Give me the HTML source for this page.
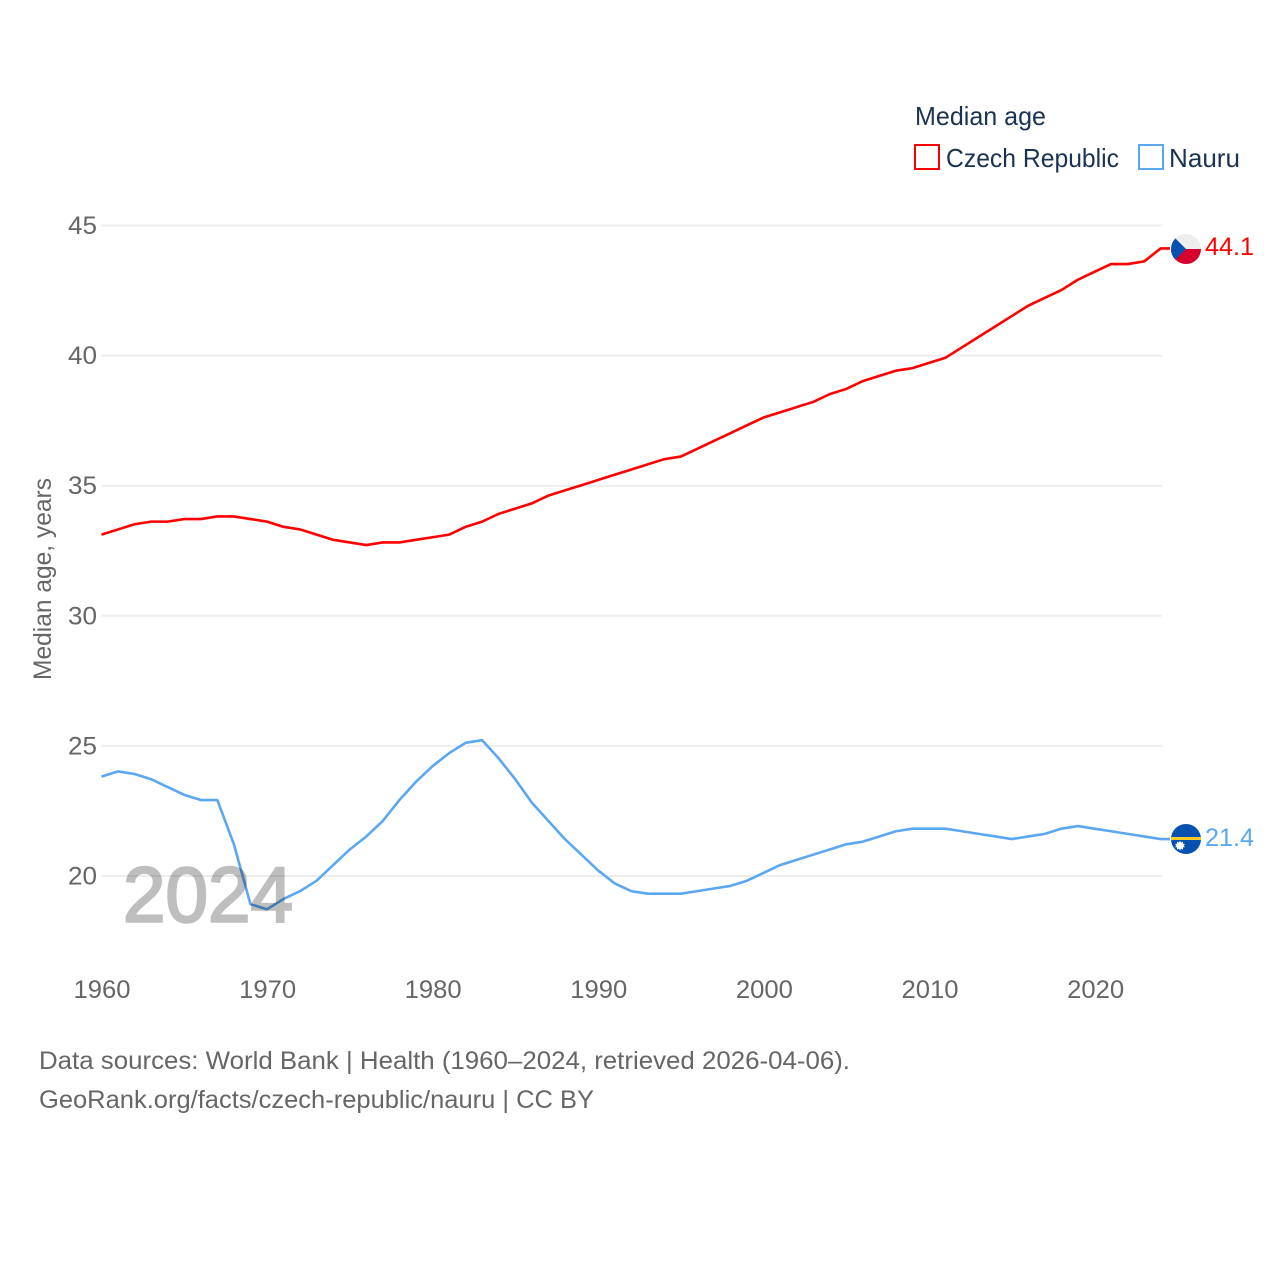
<!DOCTYPE html>
<html lang="en">
<head>
<meta charset="utf-8">
<title>Median age: Czech Republic and Nauru</title>
<style>
html,body{margin:0;padding:0;background:#fff;width:1280px;height:1280px;overflow:hidden}
svg{display:block;font-family:"Liberation Sans",sans-serif}
</style>
</head>
<body>
<svg id="chart" xmlns="http://www.w3.org/2000/svg" width="1280" height="1280" viewBox="0 0 1280 1280">
  <rect width="1280" height="1280" fill="#fff"/>
  <g id="grid"></g>
  <g id="yticks"></g>
  <g id="xticks"></g>
  <text transform="translate(51,680) rotate(-90)" font-size="25" fill="#666" textLength="202" lengthAdjust="spacingAndGlyphs">Median age, years</text>
  <g id="series"></g>
  <text x="123" y="921.5" font-size="78" fill="#000" stroke="#000" stroke-width="2.4" opacity="0.25" textLength="170" lengthAdjust="spacingAndGlyphs">2024</text>

  <defs>
    <clipPath id="clip-cz"><circle cx="1186" cy="249" r="15"/></clipPath>
    <clipPath id="clip-nr"><circle cx="1186" cy="839" r="15"/></clipPath>
  </defs>
  <g clip-path="url(#clip-cz)">
    <rect x="1171" y="234" width="30" height="15" fill="#eeeeee"/>
    <rect x="1171" y="249" width="30" height="15" fill="#d7002c"/>
    <polygon points="1171,234 1186,249 1171,264" fill="#0650b0"/>
  </g>
  <g clip-path="url(#clip-nr)">
    <rect x="1171" y="824" width="30" height="30" fill="#0650b0"/>
    <rect x="1171" y="837" width="30" height="3" fill="#ffc928"/>
    <polygon points="1180,840.6 1181,842.6 1183,841.6 1182.9,843.8 1185,844 1183.6,845.6 1185,847.3 1182.9,847.4 1183,849.6 1181,848.6 1180,850.6 1179,848.6 1177,849.6 1177.1,847.4 1175,847.3 1176.4,845.6 1175,844 1177.1,843.8 1177,841.6 1179,842.6" fill="#fff"/>
  </g>
  <text x="1205" y="255" font-size="25" fill="#ff0000" textLength="49" lengthAdjust="spacingAndGlyphs">44.1</text>
  <text x="1205" y="846" font-size="25" fill="#5ba7f0" textLength="49" lengthAdjust="spacingAndGlyphs">21.4</text>

  <g>
    <text x="915" y="125" font-size="26" fill="#1b3352" textLength="131" lengthAdjust="spacingAndGlyphs">Median age</text>
    <g>
      <rect x="915" y="145" width="24" height="24" fill="#fff" stroke="#ff0000" stroke-width="2"/>
      <text x="946" y="167" font-size="26" fill="#1b3352" textLength="173" lengthAdjust="spacingAndGlyphs">Czech Republic</text>
    </g>
    <g>
      <rect x="1139" y="145" width="24" height="24" fill="#fff" stroke="#5ba7f0" stroke-width="2"/>
      <text x="1169" y="167" font-size="26" fill="#1b3352" textLength="71" lengthAdjust="spacingAndGlyphs">Nauru</text>
    </g>
  </g>

  <text x="39" y="1069" font-size="25" fill="#666" textLength="811" lengthAdjust="spacingAndGlyphs">Data sources: World Bank | Health (1960–2024, retrieved 2026-04-06).</text>
  <text x="39" y="1108" font-size="25" fill="#666" textLength="555" lengthAdjust="spacingAndGlyphs">GeoRank.org/facts/czech-republic/nauru | CC BY</text>
</svg>
<script>
const startYear = 1960;
const yTickValues = [20, 25, 30, 35, 40, 45];
const xTickValues = [1960, 1970, 1980, 1990, 2000, 2010, 2020];
const czechValues = [33.1,33.3,33.5,33.6,33.6,33.7,33.7,33.8,33.8,33.7,33.6,33.4,33.3,33.1,32.9,32.8,32.7,32.8,32.8,32.9,33.0,33.1,33.4,33.6,33.9,34.1,34.3,34.6,34.8,35.0,35.2,35.4,35.6,35.8,36.0,36.1,36.4,36.7,37.0,37.3,37.6,37.8,38.0,38.2,38.5,38.7,39.0,39.2,39.4,39.5,39.7,39.9,40.3,40.7,41.1,41.5,41.9,42.2,42.5,42.9,43.2,43.5,43.5,43.6,44.1];
const nauruValues = [23.8,24.0,23.9,23.7,23.4,23.1,22.9,22.9,21.2,18.9,18.7,19.1,19.4,19.8,20.4,21.0,21.5,22.1,22.9,23.6,24.2,24.7,25.1,25.2,24.5,23.7,22.8,22.1,21.4,20.8,20.2,19.7,19.4,19.3,19.3,19.3,19.4,19.5,19.6,19.8,20.1,20.4,20.6,20.8,21.0,21.2,21.3,21.5,21.7,21.8,21.8,21.8,21.7,21.6,21.5,21.4,21.5,21.6,21.8,21.9,21.8,21.7,21.6,21.5,21.4];

const SVG_NS = 'http://www.w3.org/2000/svg';
function xScale(year) { return 101.5 + (year - 1960) * 16.55; }
function xLabelScale(year) { return 102 + (year - 1960) * 16.56; }
function yScale(v) { return 876 - (v - 20) * 26.02; }
function make(tag, attrs, parent, text) {
  const el = document.createElementNS(SVG_NS, tag);
  for (const k in attrs) el.setAttribute(k, attrs[k]);
  if (text !== undefined) el.textContent = text;
  parent.appendChild(el);
  return el;
}

const gridGroup = document.getElementById('grid');
const yGroup = document.getElementById('yticks');
const xGroup = document.getElementById('xticks');
const seriesGroup = document.getElementById('series');

yTickValues.forEach(function (v) {
  const line = make('line', { x1: 101.5, x2: 1162, y1: yScale(v), y2: yScale(v), stroke: '#eeeeee', 'stroke-width': 2 }, gridGroup);
  
  
  const label = make('text', { x: 97, y: yScale(v) + 8.5, 'text-anchor': 'end', 'font-size': 25, fill: '#666', textLength: 29, lengthAdjust: 'spacingAndGlyphs' }, yGroup, String(v));
  
  
});

xTickValues.forEach(function (year) {
  const label = make('text', { x: xLabelScale(year), y: 998, 'text-anchor': 'middle', 'font-size': 25, fill: '#666', textLength: 57, lengthAdjust: 'spacingAndGlyphs' }, xGroup, String(year));
  
  
});

function pointsFor(values) {
  const pts = values.map(function (v, i) { return xScale(startYear + i).toFixed(2) + ',' + (yScale(v) - 0.5).toFixed(2); });
  const last = values[values.length - 1];
  pts.push('1170,' + (yScale(last) - 0.5).toFixed(2));
  return pts.join(' ');
}

const czechLine = make('polyline', { points: pointsFor(czechValues), fill: 'none', stroke: '#ff0000', 'stroke-width': 2.6, 'stroke-linejoin': 'round' }, seriesGroup);



const nauruLine = make('polyline', { points: pointsFor(nauruValues), fill: 'none', stroke: '#5ba7f0', 'stroke-width': 2.6, 'stroke-linejoin': 'round' }, seriesGroup);


</script>
</body>
</html>
